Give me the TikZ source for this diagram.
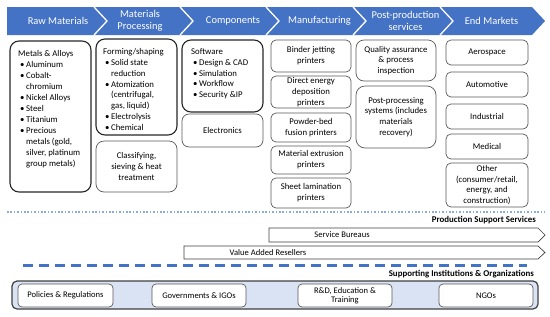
\documentclass[tikz,border=0pt]{standalone}
\usepackage{fontspec}
\setmainfont{Carlito}
\definecolor{hdr}{HTML}{4472C4}
\definecolor{lightfill}{HTML}{DAE3F3}
\definecolor{dotblue}{HTML}{8FAADC}
\definecolor{boxgray}{HTML}{595959}
\definecolor{boxdark}{HTML}{262626}
\definecolor{arrgray}{HTML}{404040}
\newcommand\bl{\hspace*{2bp}\makebox[6bp][l]{\textbullet}}
\newcommand\ct{\hspace*{8bp}}
\begin{document}
\begin{tikzpicture}[x=1bp,y=-1bp,
  hdrtext/.style={text=white,font=\fontsize{10.5}{12}\selectfont,align=center,inner sep=0},
  bigbox/.style={draw=boxdark,line width=1.1bp,rounded corners=9bp,inner sep=0},
  smallbox/.style={draw=boxgray,line width=0.7bp,rounded corners=5bp,inner sep=0,align=center,font=\fontsize{8.8}{10.8}\selectfont},
  listtext/.style={inner sep=0,align=left,anchor=north west,font=\fontsize{8.8}{10.8}\selectfont},
  suparrow/.style={draw=arrgray,line width=0.7bp,fill=white},
  lbl/.style={inner sep=0,font=\fontsize{8.6}{10.7}\selectfont},
  boldlbl/.style={inner sep=0,anchor=east,font=\fontsize{8.9}{10.7}\selectfont\bfseries},
  instbox/.style={draw=boxgray,line width=0.7bp,fill=white,rounded corners=4bp,inner sep=0,align=center,minimum width=94bp,minimum height=23bp,font=\fontsize{8.6}{9}\selectfont},
]
\useasboundingbox (0,0) rectangle (550,316);
% header band
\fill[hdr] (7,7) -- (532,7) -- (545,21) -- (532,35) -- (7,35) -- cycle;
\foreach \t in {94,180,266,353,440}{
  \draw[white,line width=1.3bp] (\t,7) -- (\t+13,21) -- (\t,35);
}
\node[hdrtext] (h1) at (58,21) {Raw Materials};
\node[hdrtext] (h2) at (140,21) {Materials\\Processing};
\node[hdrtext] (h3) at (233,21) {Components};
\node[hdrtext] (h4) at (319.5,21) {Manufacturing};
\node[hdrtext] (h5) at (405.5,21) {Post-production\\services};
\node[hdrtext] (h6) at (491.5,21) {End Markets};

% raw materials
\node[bigbox,minimum width=81bp,minimum height=151bp] (raw) at (50.5,116.5) {};
\node[listtext,font=\fontsize{8.8}{11.05}\selectfont] (rawt) at (18,50) {Metals \& Alloys\\
\bl Aluminum\\
\bl Cobalt-\\
\ct chromium\\
\bl Nickel Alloys\\
\bl Steel\\
\bl Titanium\\
\bl Precious\\
\ct metals (gold,\\
\ct silver, platinum\\
\ct group metals)};

% materials processing
\node[bigbox,minimum width=81bp,minimum height=96bp] (form) at (136.5,87) {};
\node[listtext] (formt) at (103,48.5) {Forming/shaping\\
\bl Solid state\\
\ct reduction\\
\bl Atomization\\
\ct (centrifugal,\\
\ct gas, liquid)\\
\bl Electrolysis\\
\bl Chemical};
\node[smallbox,rounded corners=8bp,minimum width=81bp,minimum height=51bp] (class) at (136.5,166.5) {Classifying,\\sieving \& heat\\treatment};

% components
\node[bigbox,minimum width=81bp,minimum height=72bp] (soft) at (222.5,76) {};
\node[listtext] (softt) at (191,48.5) {Software\\
\bl Design \& CAD\\
\bl Simulation\\
\bl Workflow\\
\bl Security \&IP};
\node[smallbox,rounded corners=7bp,minimum width=81bp,minimum height=33bp] (elec) at (222.5,130.5) {Electronics};

% manufacturing
\node[smallbox,minimum width=80bp,minimum height=32bp] (m1) at (311,56) {Binder jetting\\printers};
\node[smallbox,minimum width=80bp,minimum height=32bp] (m2) at (311,92) {Direct energy\\deposition\\printers};
\node[smallbox,minimum width=80bp,minimum height=29bp] (m3) at (311,127.5) {Powder-bed\\fusion printers};
\node[smallbox,minimum width=80bp,minimum height=28bp] (m4) at (311,160) {Material extrusion\\printers};
\node[smallbox,minimum width=80bp,minimum height=30bp] (m5) at (311,193) {Sheet lamination\\printers};

% post-production
\node[smallbox,rounded corners=8bp,minimum width=80bp,minimum height=41bp] (p1) at (396,60.5) {Quality assurance\\\& process\\inspection};
\node[smallbox,rounded corners=9bp,minimum width=80bp,minimum height=62bp] (p2) at (396,117) {Post-processing\\systems (includes\\materials\\recovery)};

% end markets
\node[smallbox,minimum width=82bp,minimum height=25bp] (e1) at (487,52.5) {Aerospace};
\node[smallbox,minimum width=82bp,minimum height=25bp] (e2) at (487,84.5) {Automotive};
\node[smallbox,minimum width=82bp,minimum height=25bp] (e3) at (487,116.5) {Industrial};
\node[smallbox,minimum width=82bp,minimum height=25bp] (e4) at (487,146.5) {Medical};
\node[smallbox,minimum width=82bp,minimum height=44bp] (e5) at (487,185) {Other\\(consumer/retail,\\energy, and\\construction)};

% production support services
\draw[dotblue,line width=1.3bp,dash pattern=on 1.6bp off 1.8bp] (7,212) -- (545,212);
\node[boldlbl] (pss) at (536,220) {Production Support Services};
\draw[suparrow] (269,228) -- (538,228) -- (545,235) -- (538,242) -- (269,242) -- cycle;
\node[lbl] (sb) at (342,235) {Service Bureaus};
\draw[suparrow] (184,246) -- (538,246) -- (545,252.5) -- (538,259) -- (184,259) -- cycle;
\node[lbl] (var) at (268,252.5) {Value Added Resellers};

% supporting institutions
\draw[hdr,line width=3bp,dash pattern=on 10bp off 6bp] (23,265) -- (527,265);
\node[boldlbl] (sio) at (534,274) {Supporting Institutions \& Organizations};
\node[draw=arrgray,line width=1.2bp,fill=lightfill,rounded corners=5bp,minimum width=526bp,minimum height=28bp,inner sep=0] (inst) at (275,295) {};
\node[instbox,minimum width=95bp] (i1) at (65.5,295.5) {Policies \& Regulations};
\node[instbox] (i2) at (199,295.5) {Governments \& IGOs};
\node[instbox] (i3) at (345,295.5) {R\&D, Education \&\\Training};
\node[instbox] (i4) at (486,295.5) {NGOs};
\end{tikzpicture}
\end{document}
